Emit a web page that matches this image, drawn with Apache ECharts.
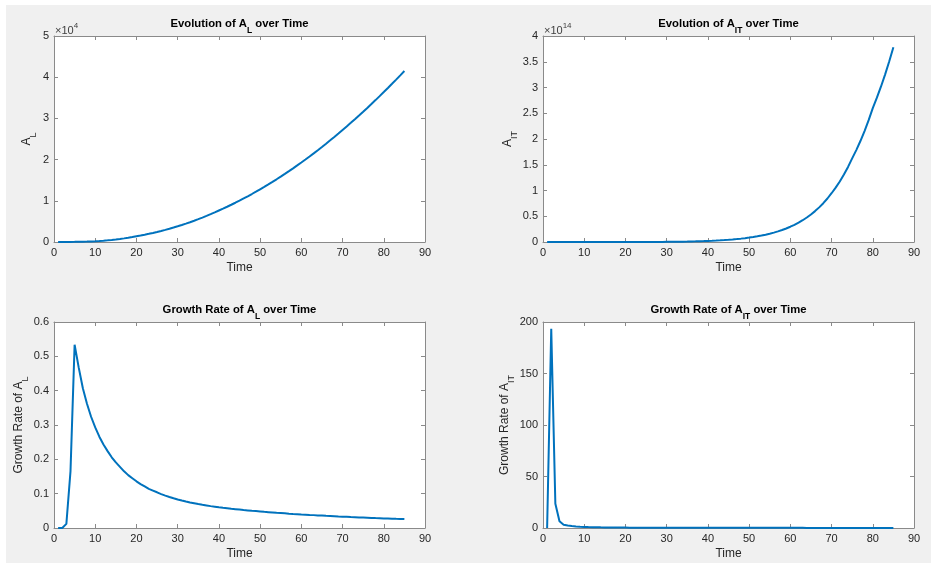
<!DOCTYPE html>
<html><head><meta charset="utf-8">
<script src="https://cdn.jsdelivr.net/npm/echarts@6/dist/echarts.min.js"></script>
<style>html,body{margin:0;padding:0;background:#fff}#c{width:931px;height:563px}</style>
</head><body><div id="c"></div><script>
// ---------- data ----------
const time = [1,2,3,4,5,6,7,8,9,10,11,12,13,14,15,16,17,18,19,20,21,22,23,24,25,26,27,28,29,30,
  31,32,33,34,35,36,37,38,39,40,41,42,43,44,45,46,47,48,49,50,51,52,53,54,55,56,57,58,59,60,
  61,62,63,64,65,66,67,68,69,70,71,72,73,74,75,76,77,78,79,80,81,82,83,84,85];
const aL = [22.6,22.6,22.9,26.7,41,60,84,114,151,195,
  256,328,411,508,618,743,882,1038,1211,1400,
  1580,1772,1979,2199,2433,2681,2943,3220,3513,3820,
  4135,4464,4808,5167,5542,5932,6338,6759,7196,7650,
  8098,8561,9039,9531,10038,10561,11099,11650,12218,12800,
  13384,13983,14596,15223,15866,16523,17196,17883,18584,19300,
  20024,20761,21514,22282,23065,23862,24673,25501,26343,27200,
  28055,28925,29809,30706,31617,32545,33489,34443,35414,36400,
  37391,38397,39418,40452,41500];
const aIT = [7,1360,33500,2.51e5,1.06e6,3.78e6,1.11e7,2.84e7,6.47e7,1.35e8,
  2.61e8,4.80e8,8.41e8,1.41e9,2.29e9,3.60e9,5.50e9,8.20e9,1.20e10,1.72e10,
  2.41e10,3.34e10,4.56e10,6.15e10,8.18e10,1.08e11,1.40e11,1.81e11,2.31e11,2.93e11,
  3.69e11,4.60e11,5.71e11,7.04e11,8.62e11,1.05e12,1.27e12,1.53e12,1.84e12,2.18e12,
  2.508e12,2.885e12,3.318e12,3.817e12,4.39e12,5.015e12,5.728e12,6.543e12,7.474e12,8.54e12,
  9.696e12,1.101e13,1.250e13,1.419e13,1.612e13,1.821e13,2.058e13,2.325e13,2.627e13,2.968e13,
  3.340e13,3.758e13,4.228e13,4.758e13,5.353e13,6.000e13,6.725e13,7.537e13,8.448e13,9.468e13,
  1.0548e14,1.1750e14,1.3090e14,1.4582e14,1.6244e14,1.7846e14,1.9606e14,2.1539e14,2.3663e14,2.5996e14,
  2.8021e14,3.0204e14,3.2557e14,3.5093e14,3.7827e14];
const gL = [0,0,0.012,0.165,0.534,0.467,0.407,0.362,0.324,0.293,
  0.266,0.243,0.224,0.206,0.191,0.178,0.165,0.154,0.145,0.136,
  0.128,0.121,0.114,0.109,0.104,0.0988,0.0944,0.0904,0.0866,0.083,
  0.080,0.0772,0.0745,0.0721,0.0697,0.0675,0.0657,0.0637,0.0621,0.0603,
  0.0588,0.0574,0.056,0.0548,0.0536,0.0524,0.0513,0.0502,0.0492,0.0482,
  0.0471,0.0462,0.0453,0.0443,0.0435,0.0427,0.0418,0.041,0.0403,0.0395,
  0.0389,0.0381,0.0375,0.0367,0.0362,0.0355,0.0349,0.0343,0.0336,0.0331,
  0.0325,0.0319,0.0315,0.0309,0.0304,0.0299,0.0294,0.0288,0.0284,0.0279,
  0.0275,0.0271,0.0266,0.0263,0.0259];
const gIT = [0,193.5,23.5,6.5,3.2,2.4,1.9,1.5,1.25,1.05,
  0.9,0.8,0.7,0.63,0.57,0.52,0.48,0.44,0.41,0.38,
  0.36,0.34,0.32,0.3,0.285,0.27,0.26,0.25,0.24,0.23,
  0.22,0.215,0.21,0.2,0.195,0.19,0.18,0.175,0.17,0.165,
  0.16,0.155,0.15,0.15,0.145,0.142,0.14,0.14,0.138,0.135,
  0.135,0.134,0.133,0.132,0.13,0.129,0.128,0.127,0.126,0.125,
  0.124,0.123,0.122,0.121,0.12,0.119,0.118,0.117,0.116,0.115,
  0.112,0.109,0.106,0.103,0.1,0.098,0.096,0.094,0.092,0.09,
  0.088,0.085,0.083,0.08,0.078];

// axis ranges / tick labels
const xRange = [0, 90, 10];
const yMax = [5e4, 4e14, 0.6, 200];
const yStep = [1e4, 0.5e14, 0.1, 50];
const yDiv = [1e4, 1e14, 1, 1];
const titles = [['Evolution of A','L',' over Time'],['Evolution of A','IT',' over Time'],
                ['Growth Rate of A','L',' over Time'],['Growth Rate of A','IT',' over Time']];
const yNames = [['A','L'],['A','IT'],['Growth Rate of A','L'],['Growth Rate of A','IT']];
const exponents = ['4','14',null,null];
const seriesData = [aL, aIT, gL, gIT];

// ---------- layout ----------
const FONT = "'Liberation Sans', Arial, Helvetica, sans-serif";
const grids = [[54,36],[543,36],[54,322],[543,322]];
const GW = 371, GH = 206;
const AX = '#8a8a8a', TXT = '#262626';
const yGaps = [16, 14, 24, 25];

const option = {
  backgroundColor: '#f0f0f0',
  animation: false,
  grid: grids.map(g => ({left: g[0], top: g[1], width: GW, height: GH, show: true,
        backgroundColor: '#ffffff', borderWidth: 0})),
  xAxis: [], yAxis: [], series: [], graphic: []
};

function fmt(v, d){ return String(parseFloat((v / d).toFixed(4))); }

grids.forEach((g, i) => {
  const common = {type: 'value', gridIndex: i, min: xRange[0], max: xRange[1], interval: xRange[2],
    splitLine: {show: false},
    axisLine: {show: true, onZero: false, lineStyle: {color: AX, width: 1}},
    axisTick: {show: true, inside: true, length: 4, lineStyle: {color: AX}}};
  option.xAxis.push(Object.assign({}, common, {position: 'bottom',
    axisLabel: {show: true, margin: 5, color: TXT, fontSize: 11, fontFamily: FONT},
    name: 'Time', nameLocation: 'middle', nameGap: 20,
    nameTextStyle: {color: TXT, fontSize: 12, fontFamily: FONT}}));
  option.xAxis.push(Object.assign({}, common, {position: 'top', axisLabel: {show: false}}));
  const yc = {type: 'value', gridIndex: i, min: 0, max: yMax[i], interval: yStep[i],
    splitLine: {show: false},
    axisLine: {show: true, onZero: false, lineStyle: {color: AX, width: 1}},
    axisTick: {show: true, inside: true, length: 4, lineStyle: {color: AX}}};
  option.yAxis.push(Object.assign({}, yc, {position: 'left',
    axisLabel: {show: true, margin: 5, color: TXT, fontSize: 11, fontFamily: FONT,
      formatter: v => fmt(v, yDiv[i])},
    name: '{n|' + yNames[i][0] + '}{s|' + yNames[i][1] + '}',
    nameLocation: 'middle', nameGap: yGaps[i], nameRotate: 90,
    nameTextStyle: {color: TXT, fontFamily: FONT,
      rich: {n: {fontSize: 12, lineHeight: 22, color: TXT, fontFamily: FONT},
             s: {fontSize: 9, lineHeight: 10, verticalAlign: 'bottom', color: TXT, fontFamily: FONT}}}}));
  option.yAxis.push(Object.assign({}, yc, {position: 'right', axisLabel: {show: false}}));
  option.series.push({type: 'line', xAxisIndex: 2 * i, yAxisIndex: 2 * i,
    data: time.map((t, k) => [t, seriesData[i][k]]),
    showSymbol: false, symbol: 'none', clip: false,
    lineStyle: {color: '#0072BD', width: 2}});
  // title
  const cx = g[0] + GW / 2;
  const cy = i < 2 ? 24 : 310;
  option.graphic.push({type: 'text', x: cx, y: cy, silent: true,
    style: {text: '{b|' + titles[i][0] + '}{s|' + titles[i][1] + '}{b|' + titles[i][2] + '}',
      align: 'center', verticalAlign: 'middle',
      rich: {b: {fontSize: 11.3, fontWeight: 'bold', lineHeight: 22, fill: '#000', fontFamily: FONT},
             s: {fontSize: 8.5, fontWeight: 'bold', lineHeight: 10, verticalAlign: 'bottom', fill: '#000', fontFamily: FONT}}}});
  if (exponents[i]) {
    option.graphic.push({type: 'text', x: g[0] + 1, y: g[1] - 5, silent: true,
      style: {text: '{n|\u00d710}{p|' + exponents[i] + '}', align: 'left', verticalAlign: 'middle',
        rich: {n: {fontSize: 11, lineHeight: 18, fill: '#404040', fontFamily: FONT},
               p: {fontSize: 8, lineHeight: 9, verticalAlign: 'top', fill: '#404040', fontFamily: FONT}}}});
  }
});
option.graphic.push({type: 'rect', shape: {x: 0, y: 0, width: 931, height: 5}, style: {fill: '#ffffff'}, silent: true});
option.graphic.push({type: 'rect', shape: {x: 0, y: 0, width: 6, height: 563}, style: {fill: '#ffffff'}, silent: true});

const chart = echarts.init(document.getElementById('c'), null, {renderer: 'canvas'});
chart.setOption(option);
</script></body></html>
